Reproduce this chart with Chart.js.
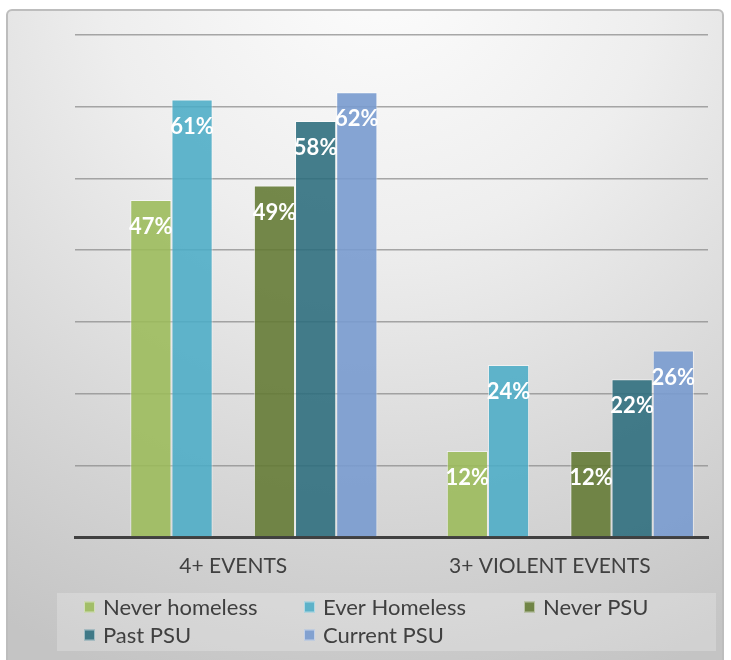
<!DOCTYPE html>
<html>
<head>
<meta charset="utf-8">
<script src="https://cdn.jsdelivr.net/npm/chart.js@4/dist/chart.umd.min.js"></script>
<style>
  html, body { margin: 0; padding: 0; background: #ffffff; }
  #wrap { width: 731px; height: 660px; position: relative; }
</style>
</head>
<body>
<div id="wrap"><canvas id="chart" width="731" height="660"></canvas></div>
<script>
// Share of respondents reporting multiple traumatic events
const categories = ['4+ EVENTS', '3+ VIOLENT EVENTS'];

const seriesNames = ['Never homeless', 'Ever Homeless', 'Never PSU', 'Past PSU', 'Current PSU'];
const neverHomeless = [47, 12];
const everHomeless  = [61, 24];
const neverPSU      = [49, 12];
const pastPSU       = [58, 22];
const currentPSU    = [62, 26];

const yTicks = [0, 10, 20, 30, 40, 50, 60, 70];

const seriesColors = {
  'Never homeless': 'rgba(155, 187, 89, 0.88)',
  'Ever Homeless':  'rgba(75, 172, 198, 0.88)',
  'Never PSU':      'rgba(98, 121, 50, 0.88)',
  'Past PSU':       'rgba(43, 108, 124, 0.88)',
  'Current PSU':    'rgba(121, 155, 207, 0.90)'
};

const FONT = 'Lato, "Noto Sans", sans-serif';

function series(label, data) {
  return {
    label: label,
    data: data,
    backgroundColor: seriesColors[label],
    borderColor: 'rgba(255,255,255,0.55)',
    borderWidth: 1,
    borderSkipped: 'bottom'
  };
}
// Empty slots keep the homelessness pair apart from the PSU trio
function spacer() {
  return { label: '', data: categories.map(() => null), backgroundColor: 'rgba(0,0,0,0)', borderWidth: 0 };
}

const datasets = [
  spacer(),
  series(seriesNames[0], neverHomeless),
  series(seriesNames[1], everHomeless),
  spacer(),
  series(seriesNames[2], neverPSU),
  series(seriesNames[3], pastPSU),
  series(seriesNames[4], currentPSU)
];

// Panel background, frame and legend box
const panelPlugin = {
  id: 'panel',
  beforeDraw(chart) {
    const ctx = chart.ctx;
    const W = chart.width, H = chart.height;
    ctx.save();
    ctx.fillStyle = '#ffffff';
    ctx.fillRect(0, 0, W, H);
    const g = ctx.createRadialGradient(380, -40, 20, 380, -40, 760);
    g.addColorStop(0, '#fcfcfc');
    g.addColorStop(0.35, '#eeeeee');
    g.addColorStop(0.7, '#d7d7d7');
    g.addColorStop(1, '#c4c4c4');
    ctx.beginPath();
    ctx.roundRect(7, 10, 716, H + 20, 5);
    ctx.fillStyle = g;
    ctx.fill();
    ctx.lineWidth = 2;
    ctx.strokeStyle = '#bdbdbd';
    ctx.stroke();
    // legend box
    ctx.fillStyle = 'rgba(255,255,255,0.22)';
    ctx.fillRect(57, 593, 659, 58);
    ctx.restore();
  }
};

// Value labels inside the top of each bar
const valueLabelPlugin = {
  id: 'valueLabels',
  afterDatasetsDraw(chart) {
    const ctx = chart.ctx;
    ctx.save();
    ctx.fillStyle = '#ffffff';
    ctx.font = 'bold 22px ' + FONT;
    ctx.textAlign = 'center';
    ctx.textBaseline = 'middle';
    chart.data.datasets.forEach((ds, i) => {
      if (!ds.label) return;
      chart.getDatasetMeta(i).data.forEach((bar, j) => {
        const v = ds.data[j];
        if (v == null) return;
        ctx.fillText(v + '%', bar.x, bar.y + 27);
      });
    });
    ctx.restore();
  }
};

// Legend laid out in a fixed three-column grid
const gridLegendPlugin = {
  id: 'gridLegend',
  afterDraw(chart) {
    const ctx = chart.ctx;
    const cols = [84, 304, 524];
    const rows = [607, 635];
    ctx.save();
    ctx.font = '22px ' + FONT;
    ctx.textBaseline = 'middle';
    ctx.textAlign = 'left';
    let k = 0;
    chart.data.datasets.forEach(ds => {
      if (!ds.label) return;
      const x = cols[k % 3], y = rows[Math.floor(k / 3)];
      ctx.fillStyle = ds.backgroundColor;
      ctx.fillRect(x, y - 5.5, 11, 11);
      ctx.strokeStyle = 'rgba(255,255,255,0.5)';
      ctx.lineWidth = 1;
      ctx.strokeRect(x + 0.5, y - 5, 10, 10);
      ctx.fillStyle = '#404040';
      ctx.fillText(ds.label, x + 19, y + 1);
      k++;
    });
    ctx.restore();
  }
};

new Chart(document.getElementById('chart'), {
  type: 'bar',
  data: { labels: categories, datasets: datasets },
  options: {
    responsive: false,
    animation: false,
    layout: { padding: { left: 75, right: 23, top: 35, bottom: 0 } },
    plugins: {
      legend: { display: false },
      tooltip: { enabled: false }
    },
    datasets: {
      bar: { categoryPercentage: 0.911, barPercentage: 1.0 }
    },
    scales: {
      x: {
        grid: { display: false, drawTicks: false },
        border: { display: true, color: '#404040', width: 3 },
        ticks: { color: '#404040', font: { family: FONT, size: 21 }, padding: 17 },
        afterFit(s) { s.height = 123; }
      },
      y: {
        min: 0,
        max: 70,
        afterBuildTicks(s) { s.ticks = yTicks.map(v => ({ value: v })); },
        ticks: { display: false },
        grid: { color: 'rgba(140,140,140,0.75)', lineWidth: 1.5, drawTicks: false },
        border: { display: false },
        afterFit(s) { s.width = 0; }
      }
    }
  },
  plugins: [panelPlugin, valueLabelPlugin, gridLegendPlugin]
});
</script>
</body>
</html>
